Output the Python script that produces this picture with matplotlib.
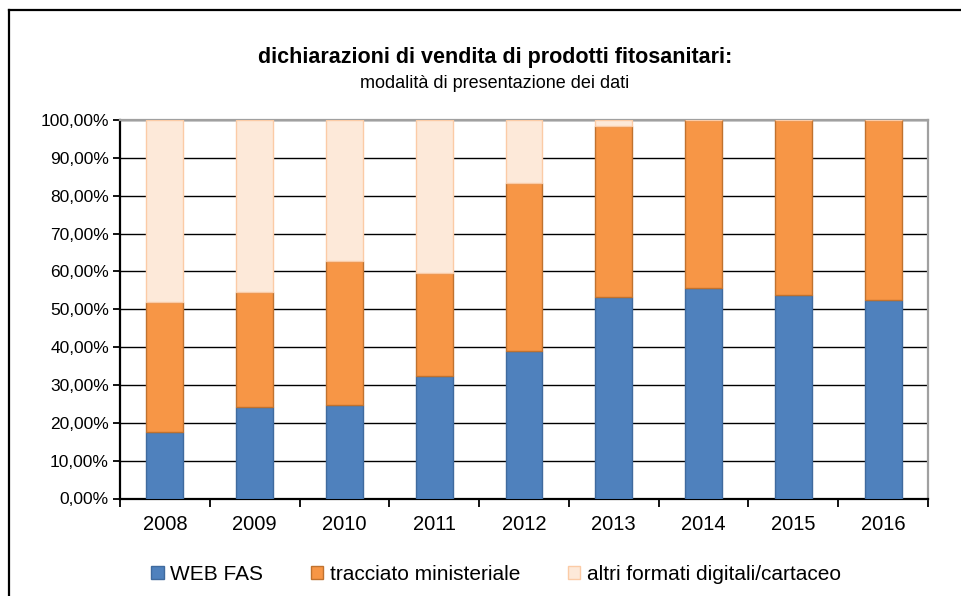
import matplotlib
matplotlib.use("Agg")
import matplotlib.pyplot as plt
from matplotlib.lines import Line2D
from matplotlib.patches import Patch
import numpy as np

plt.rcParams['font.family'] = ['Liberation Sans', 'DejaVu Sans']

years = ["2008", "2009", "2010", "2011", "2012", "2013", "2014", "2015", "2016"]
web_fas = [17.6, 24.2, 24.6, 32.4, 38.9, 53.3, 55.5, 53.7, 52.5]
tracciato = [34.2, 30.3, 38.1, 27.2, 44.4, 45.2, 44.5, 46.3, 47.5]
altri = [48.2, 45.5, 37.3, 40.4, 16.7, 1.5, 0.0, 0.0, 0.0]
series_names = ["WEB FAS", "tracciato ministeriale", "altri formati digitali/cartaceo"]
ytick_vals = [0, 10, 20, 30, 40, 50, 60, 70, 80, 90, 100]
ytick_labels = ["0,00%", "10,00%", "20,00%", "30,00%", "40,00%", "50,00%",
                "60,00%", "70,00%", "80,00%", "90,00%", "100,00%"]
title = "dichiarazioni di vendita di prodotti fitosanitari:"
subtitle = "modalità di presentazione dei dati"

colors = ["#4F81BD", "#F79646", "#FDE9D9"]
edges = ["#3F6A9E", "#C0722F", "#FBCBA6"]

W, H = 961, 596
fig = plt.figure(figsize=(W / 100, H / 100), dpi=100)
ax = fig.add_axes([120 / W, 1 - 498.5 / H, (928 - 120) / W, (498.5 - 120) / H])

x = np.arange(len(years))
bw = 0.41
b0 = np.zeros(len(years))
for vals, c, e in zip([web_fas, tracciato, altri], colors, edges):
    v = np.array(vals)
    ax.bar(x, v, bw, bottom=b0, color=c, edgecolor=e, linewidth=1.0, zorder=3)
    b0 = b0 + v

ax.set_xlim(-0.5, len(years) - 0.5)
ax.set_ylim(0, 100)
ax.set_yticks(ytick_vals)
ax.set_yticklabels(ytick_labels, fontsize=12.5)
ax.yaxis.grid(True, color="black", linewidth=1.0, zorder=1)
ax.set_axisbelow(True)

ax.set_xticks(x)
ax.set_xticklabels(years, fontsize=14.5)
ax.tick_params(axis='x', which='major', length=0, pad=12)
ax.set_xticks(np.arange(len(years) + 1) - 0.5, minor=True)
ax.tick_params(axis='x', which='minor', length=6, width=1.3, color='black', direction='out')
ax.tick_params(axis='y', length=5, width=1.3, color='black', direction='out', pad=3)

for s in ['left', 'bottom']:
    ax.spines[s].set_color('black')
    ax.spines[s].set_linewidth(1.6)
for s in ['top', 'right']:
    ax.spines[s].set_color('#A0A0A0')
    ax.spines[s].set_linewidth(1.6)

fig.text(495 / W, 1 - 58 / H, title, ha='center', va='center', fontsize=15.5, fontweight='bold')
fig.text(495 / W, 1 - 84 / H, subtitle, ha='center', va='center', fontsize=13)

handles = [Patch(facecolor=c, edgecolor=e, linewidth=1.0) for c, e in zip(colors, edges)]
leg = fig.legend(handles, series_names, loc='center', bbox_to_anchor=(496 / W, 1 - 574 / H),
                 ncol=3, frameon=False, fontsize=15, handlelength=0.6, handleheight=0.6,
                 handletextpad=0.3, columnspacing=2.3)

# outer chart frame
fig.add_artist(Line2D([9 / W, 9 / W], [-0.1, 1 - 10 / H], transform=fig.transFigure,
                      color='black', linewidth=1.6))
fig.add_artist(Line2D([9 / W, 1.1], [1 - 10 / H, 1 - 10 / H], transform=fig.transFigure,
                      color='black', linewidth=1.6))

fig.savefig("out.png", dpi=100)
